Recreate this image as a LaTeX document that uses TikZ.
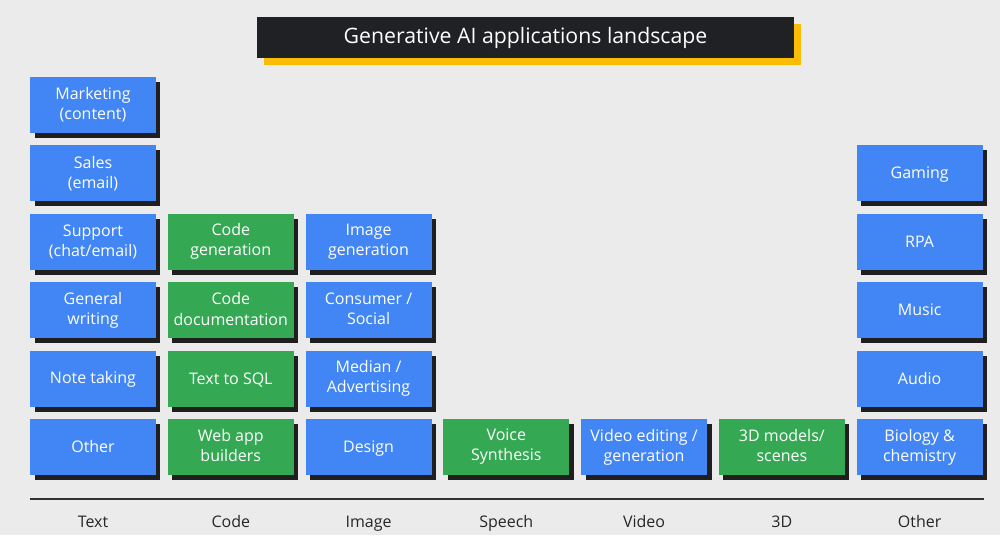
\documentclass[tikz,border=0pt]{standalone}
\usepackage{fontspec}
\setmainfont{Open Sans}
\usepackage{tikz}
\usetikzlibrary{positioning, shadows}
\usepackage{xcolor}
\definecolor{gblue}{HTML}{4285F4}
\definecolor{ggreen}{HTML}{34A853}
\definecolor{gyellow}{HTML}{FBBC04}
\definecolor{gdark}{HTML}{202124}
\definecolor{paper}{HTML}{EBEBEB}

\begin{document}
\begin{tikzpicture}[
      x=0.02cm, y=-0.02cm,
      font=\fontsize{9.1}{11.4}\selectfont,
      box/.style={minimum width=2.52cm, minimum height=1.12cm,
        align=center, inner sep=2pt, outer sep=0pt, text=white,
        execute at begin node={\rule{0pt}{2.8mm}},
        execute at end node={\rule[-0.5mm]{0pt}{0.5mm}},
        drop shadow={shadow xshift=0.09cm, shadow yshift=-0.1cm,
          fill=black!88, opacity=1}},
      bbox/.style={box, fill=gblue},
      gbox/.style={box, fill=ggreen},
      title/.style={fill=gdark, text=white, minimum width=10.74cm,
        minimum height=0.82cm, outer sep=0pt,
        font=\fontsize{12.1}{15}\selectfont,
        drop shadow={shadow xshift=0.14cm, shadow yshift=-0.14cm,
          fill=gyellow, opacity=1}},
      cat/.style={text=black!85, anchor=base},
      node distance=2.48mm and 2.36mm
    ]
    \fill[paper] (0,0) rectangle (1000,535);
    \useasboundingbox (0,0) rectangle (1000,535);

    \node[title] (title) at (525.5,37.5) {Generative AI applications landscape};

    % Text
    \node[bbox] (mkt) at (93,105) {Marketing\\(content)};
    \node[bbox, below=of mkt] (sales) {Sales\\(email)};
    \node[bbox, below=of sales] (support) {Support\\(chat/email)};
    \node[bbox, below=of support] (writing) {General\\writing};
    \node[bbox, below=of writing] (notes) {Note taking};
    \node[bbox, below=of notes] (txtother) {Other};

    % Code
    \node[gbox, right=of support] (codegen) {Code\\generation};
    \node[gbox, below=of codegen] (codedoc) {Code\\documentation};
    \node[gbox, below=of codedoc] (sql) {Text to SQL};
    \node[gbox, below=of sql] (webapp) {Web app\\builders};

    % Image
    \node[bbox, right=of codegen] (imggen) {Image\\generation};
    \node[bbox, below=of imggen] (social) {Consumer /\\Social};
    \node[bbox, below=of social] (media) {Median /\\Advertising};
    \node[bbox, below=of media] (design) {Design};

    % Speech, Video, 3D
    \node[gbox, right=of design] (voice) {Voice\\Synthesis};
    \node[bbox, right=of voice] (video) {Video editing /\\generation};
    \node[gbox, right=of video] (models) {3D models/\\scenes};

    % Other
    \node[bbox, right=of models] (bio) {Biology \&\\chemistry};
    \node[bbox, above=of bio] (audio) {Audio};
    \node[bbox, above=of audio] (music) {Music};
    \node[bbox, above=of music] (rpa) {RPA};
    \node[bbox, above=of rpa] (gaming) {Gaming};

    \draw[line width=0.95pt, black!80] (30,499) -- (984,499);

    \coordinate (base) at (0,527);
    \node[cat] (lbltext) at (mkt |- base) {Text};
    \node[cat] (lblcode) at (codegen |- base) {Code};
    \node[cat] (lblimage) at (imggen |- base) {Image};
    \node[cat] (lblspeech) at (voice |- base) {Speech};
    \node[cat] (lblvideo) at (video |- base) {Video};
    \node[cat] (lbl3d) at (models |- base) {3D};
    \node[cat] (lblother) at (gaming |- base) {Other};
  \end{tikzpicture}
\end{document}
